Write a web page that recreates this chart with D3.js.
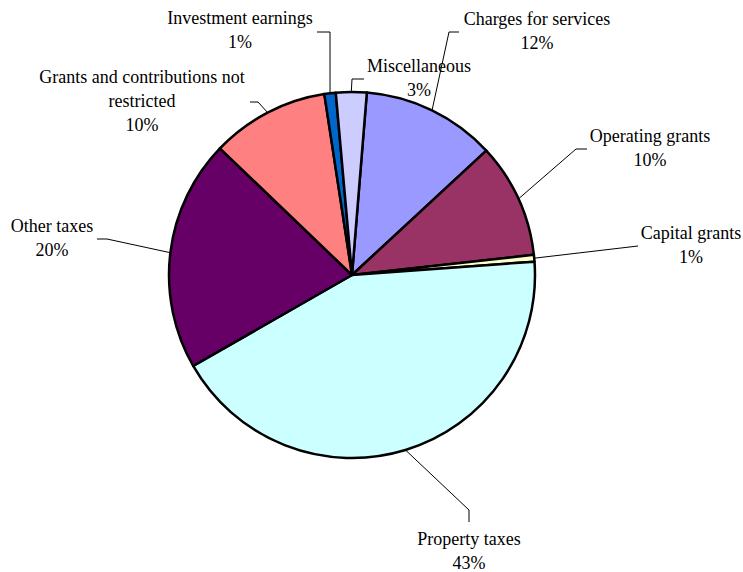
<!DOCTYPE html>
<html>
<head>
<meta charset="utf-8">
<script src="https://cdn.jsdelivr.net/npm/d3@7"></script>
<style>
  body { margin: 0; background: #fff; }
</style>
</head>
<body>
<svg id="chart" width="743" height="572"></svg>
<script>
// Revenue sources (share of total)
const categories = ["Charges for services", "Operating grants", "Capital grants", "Property taxes",
    "Other taxes", "Grants and contributions not restricted", "Investment earnings", "Miscellaneous"];
const values = [11.8, 10.1, 0.6, 42.8, 20.4, 10.4, 1.0, 2.7];
const colors = ["#9999FF", "#993366", "#FFFFCC", "#CCFFFF", "#660066", "#FF8080", "#0066CC", "#CCCCFF"];

// label layout: text centre, first baseline, line breaks, leader elbow points
const labelLayout = [
    { x: 537, y: 25, lines: ["Charges for services"], leader: [[459, 32], [449, 32]] },
    { x: 650, y: 142, lines: ["Operating grants"], leader: [[587, 149], [576, 149]] },
    { x: 691, y: 239, lines: ["Capital grants"], leader: [[638, 246]] },
    { x: 469, y: 545, lines: ["Property taxes"], leader: [[469, 522], [469, 510]] },
    { x: 52, y: 232, lines: ["Other taxes"], leader: [[97, 239], [107, 239]] },
    { x: 142, y: 83, lines: ["Grants and contributions not", "restricted"], leader: [[250, 102], [258, 102]] },
    { x: 240, y: 24, lines: ["Investment earnings"], leader: [[317, 32], [330, 32]] },
    { x: 419, y: 72, lines: ["Miscellaneous"], leader: [[364, 79], [352, 79]] }
];

const svg = d3.select("#chart");
const cx = 352, cy = 275, radius = 183;
const lineH = 24;
const fontFamily = "\"Liberation Serif\", \"Times New Roman\", serif";

const total = d3.sum(values);
const data = categories.map((c, i) => ({ name: c, value: values[i], color: colors[i], layout: labelLayout[i] }));

const pie = d3.pie()
    .sort(null)
    .value(d => d.value)
    .startAngle(4.65 * Math.PI / 180)
    .endAngle(4.65 * Math.PI / 180 + 2 * Math.PI);

const arc = d3.arc().innerRadius(0).outerRadius(radius);

const g = svg.append("g").attr("transform", `translate(${cx},${cy})`);

const arcs = pie(data);

g.selectAll("path.slice")
    .data(arcs)
    .enter().append("path")
    .attr("class", "slice")
    .attr("d", arc)
    .attr("fill", d => d.data.color)
    .attr("stroke", "#000")
    .attr("stroke-width", 2.5)
    .attr("stroke-linejoin", "round");

// leader lines from slice edge to label
arcs.forEach(d => {
    const mid = (d.startAngle + d.endAngle) / 2;
    const ex = cx + radius * Math.sin(mid);
    const ey = cy - radius * Math.cos(mid);
    const pts = d.data.layout.leader.concat([[ex, ey]]);
    svg.append("path")
        .attr("d", d3.line()(pts))
        .attr("fill", "none")
        .attr("stroke", "#000")
        .attr("stroke-width", 1);
});

// labels
arcs.forEach(d => {
    const lay = d.data.layout;
    const pct = Math.round(d.data.value / total * 100) + "%";
    const lines = lay.lines.concat([pct]);
    const t = svg.append("text")
        .attr("text-anchor", "middle")
        .style("font-family", fontFamily)
        .style("font-size", "18px")
        .style("fill", "#000");
    lines.forEach((s, i) => {
        t.append("tspan")
            .attr("x", lay.x)
            .attr("y", lay.y + i * lineH)
            .text(s);
    });
});
</script>
</body>
</html>
